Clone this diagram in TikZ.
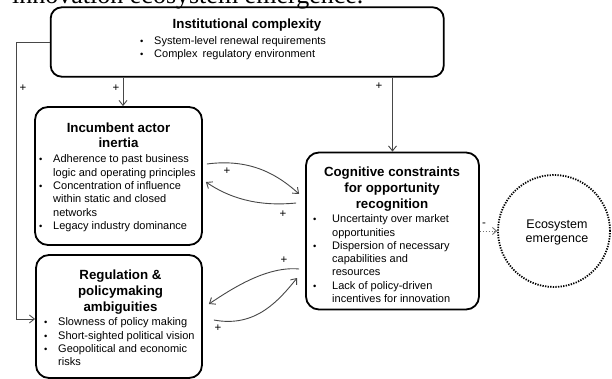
\documentclass[tikz,border=0pt]{standalone}
\usepackage{fontspec}
\setmainfont{Liberation Sans}
\newfontfamily\capfont{Liberation Serif}
\usetikzlibrary{arrows.meta}
\newcommand{\bl}[1]{\makebox[#1][l]{\scalebox{0.85}{\textbullet}}}
\begin{document}
\begin{tikzpicture}[x=1pt,y=-1pt,
  box/.style={draw, line width=1.8pt, rounded corners=13pt, inner sep=0pt},
  conn/.style={draw=black!72, line width=0.9pt, -{Straight Barb[length=5pt,width=8pt]}},
  sign/.style={font=\fontsize{11.5}{11.5}\selectfont, inner sep=0pt},
  ttl/.style={font=\bfseries\fontsize{13.3}{16}\selectfont, align=center, inner sep=0pt, anchor=north},
  blist/.style={font=\fontsize{11}{13.4}\selectfont, align=left, inner sep=0pt, anchor=north west},
]
\useasboundingbox (0,0) rectangle (612,379);

% caption fragment cut at the top
\node[font=\capfont\fontsize{26}{26}\selectfont, anchor=base west, inner sep=0pt] (cap) at (12,3.5) {innovation ecosystem emergence.};

% boxes
\node[box, rounded corners=11pt, minimum width=393pt, minimum height=69.4pt] (inst) at (247.2,42) {};
\node[box, minimum width=167pt, minimum height=138pt] (inc) at (118.5,176) {};
\node[box, minimum width=166pt, minimum height=123pt] (reg) at (119,316.5) {};
\node[box, minimum width=173pt, minimum height=157pt] (cog) at (392.5,231) {};
\node[circle, draw, line width=1.8pt, dash pattern=on 1.3pt off 1.3pt, minimum size=112pt, inner sep=0pt] (eco) at (554,231) {};

% institutional text
\node[font=\bfseries\fontsize{13.3}{16}\selectfont, anchor=base, inner sep=0pt] (instT) at (247,28.5) {Institutional complexity};
\node[blist, font=\fontsize{11}{13}\selectfont] (instL) at (140,36.5) {\rule{0pt}{8pt}\bl{14pt}System-level renewal requirements\\ \bl{14pt}Complex\hspace{2pt} regulatory environment};

% incumbent text
\node[ttl, font=\bfseries\fontsize{13.3}{15}\selectfont] (incT) at (118.5,122.5) {\rule{0pt}{10pt}Incumbent actor\\inertia};
\node[blist] (incL) at (39,154.5) {\rule{0pt}{8pt}\bl{14pt}Adherence to past business\\ \hspace*{14pt}logic and operating principles\\ \bl{14pt}Concentration of influence\\ \hspace*{14pt}within static and closed\\ \hspace*{14pt}networks\\ \bl{14pt}Legacy industry dominance};

% regulation text
\node[ttl] (regT) at (120.5,269.5) {\rule{0pt}{10pt}Regulation \&\\policymaking\\ambiguities};
\node[blist] (regL) at (44,317.5) {\rule{0pt}{8pt}\bl{14pt}Slowness of policy making\\ \bl{14pt}Short-sighted political vision\\ \bl{14pt}Geopolitical and economic\\ \hspace*{14pt}risks};

% cognitive text
\node[ttl] (cogT) at (392,166.5) {\rule{0pt}{10pt}Cognitive constraints\\for opportunity\\recognition};
\node[blist, font=\fontsize{11}{13.3}\selectfont] (cogL) at (313,214.5) {\rule{0pt}{8pt}\bl{19pt}Uncertainty over market\\ \hspace*{19pt}opportunities\\ \bl{19pt}Dispersion of necessary\\ \hspace*{19pt}capabilities and\\ \hspace*{19pt}resources\\ \bl{19pt}Lack of policy-driven\\ \hspace*{19pt}incentives for innovation};

% ecosystem text
\node[font=\fontsize{12.5}{14}\selectfont, align=center, inner sep=0pt] (ecoT) at (557,232) {Ecosystem\\emergence};

% straight connectors from institutional complexity
\coordinate (bend) at (16,42);
\draw[conn] (inst.west) -- (bend) |- ([shift={(0,2.5)}]reg.west);
\draw[conn] ([xshift=4.5pt]inc.north |- inst.south) -- ([xshift=4.5pt]inc.north);
\draw[conn] (cog.north |- inst.south) -- (cog.north);

% curved feedback connectors
\draw[conn] ([shift={(4,-12)}]inc.east) .. controls +(45,-6) and +(-20,-18) .. ([shift={(-6,-37)}]cog.west);
\draw[conn] ([shift={(-9,-28)}]cog.west) .. controls +(-40,4) and +(22,15) .. ([shift={(3,6)}]inc.east);
\draw[conn] ([shift={(-6,38)}]cog.west) .. controls +(-32,-3) and +(24,-16) .. ([shift={(6,-12.5)}]reg.east);
\draw[conn] ([shift={(11,3.5)}]reg.east) .. controls +(42,8) and +(-18,22) .. ([shift={(-8,47)}]cog.west);

% dotted connector to ecosystem
\draw[draw=black!55, line width=0.9pt, dotted, -{Straight Barb[length=4pt,width=7pt]}] (cog.east) -- (eco.west);

% signs
\node[sign] (p1) at (23,88) {+};
\node[sign] (p2) at (116,88) {+};
\node[sign] (p3) at (379,86) {+};
\node[sign] (p4) at (227,171) {+};
\node[sign] (p5) at (283,214) {+};
\node[sign] (p6) at (284,260) {+};
\node[sign] (p7) at (218,328) {+};
\node[sign] (m1) at (484,225) {-};
\end{tikzpicture}
\end{document}
